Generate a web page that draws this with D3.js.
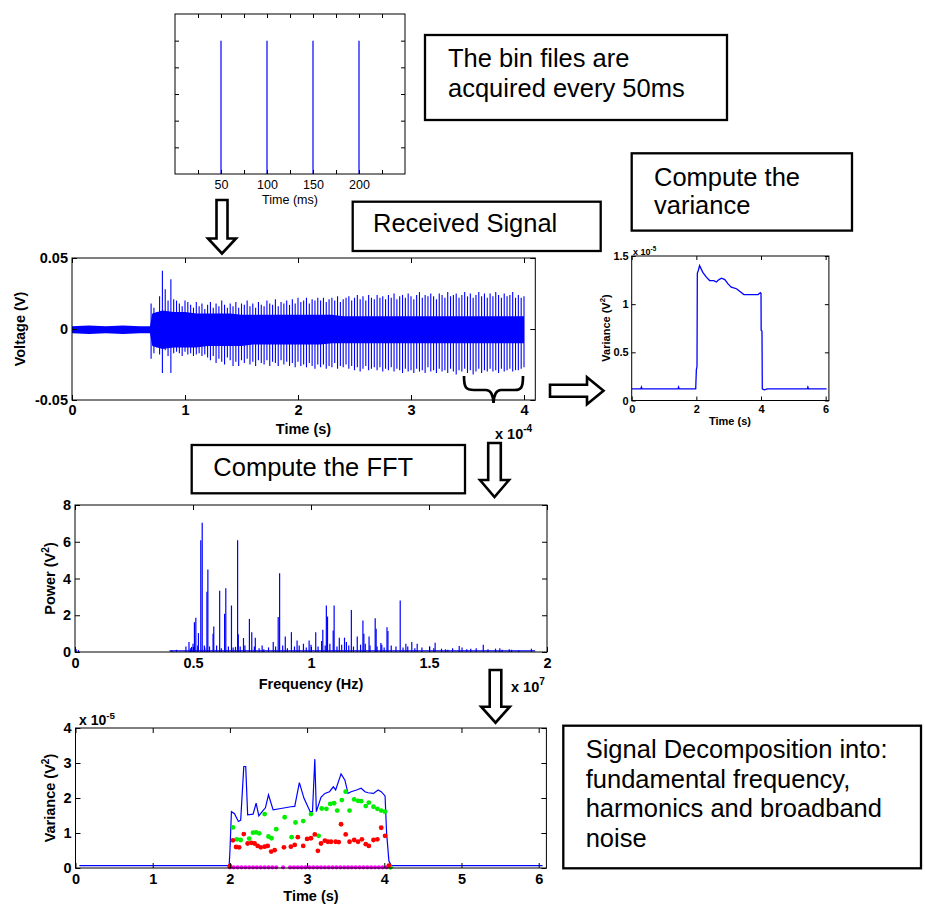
<!DOCTYPE html>
<html>
<head>
<meta charset="utf-8">
<script src="https://cdn.jsdelivr.net/npm/d3@7"></script>
<style>
body { margin: 0; background: #fff; }
svg { display: block; }
</style>
</head>
<body>
<svg id="canvas" width="925" height="905"></svg>
<script>
'use strict';

// ---- panel 1: bin file acquisition times (ms) ----
const binTimes = [50, 100, 150, 200];
const binHeights = [1, 1, 1, 1];
const binTickMarks = [25, 50, 75, 100, 125, 150, 175, 200, 225];
const binTickLabels = [50, 100, 150, 200];
const binYTicks = [0.2, 0.4, 0.6, 0.8, 1.0];

// ---- panel 2: received signal (time in 1e-4 s, voltage in mV) ----
const sigStart = 0.70;
const sigStep = 0.025;
const sigHi = [
    18, 15, 12, 23, 41, 28, 20, 35, 21, 20,
    18, 16, 20, 19, 17, 15, 19, 16, 18, 14,
    17, 19, 15, 18, 16, 20, 17, 15, 18, 16,
    19, 15, 18, 17, 20, 16, 18, 15, 19, 17,
    16, 20, 18, 17, 21, 16, 19, 18, 20, 17,
    21, 18, 22, 19, 20, 22, 18, 21, 20, 22,
    20, 22, 19, 21, 22, 20, 23, 19, 21, 22,
    23, 20, 22, 24, 21, 23, 20, 24, 22, 21,
    24, 22, 23, 21, 24, 22, 25, 21, 23, 24,
    22, 25, 23, 21, 24, 26, 22, 24, 23, 25,
    23, 21, 25, 24, 22, 26, 23, 24, 25, 22,
    24, 26, 23, 25, 22, 24, 26, 23, 25, 22,
    25, 23, 26, 24, 22, 25, 23, 24, 26, 22,
    24, 22, 23];
const sigLo = [
    -21, -17, -13, -18, -31, -15, -19, -31, -17, -16,
    -17, -19, -16, -18, -17, -19, -18, -17, -19, -18,
    -20, -22, -19, -24, -21, -23, -25, -20, -22, -26,
    -23, -26, -22, -24, -21, -25, -23, -26, -22, -24,
    -25, -22, -26, -23, -24, -26, -22, -25, -23, -26,
    -24, -27, -23, -26, -25, -27, -24, -26, -28, -25,
    -27, -25, -28, -26, -27, -24, -28, -26, -27, -25,
    -28, -26, -29, -27, -30, -28, -26, -29, -28, -27,
    -29, -27, -30, -28, -29, -27, -30, -28, -29, -31,
    -28, -30, -29, -31, -28, -30, -29, -31, -27, -30,
    -29, -31, -28, -30, -29, -31, -28, -30, -32, -29,
    -30, -28, -31, -29, -32, -30, -28, -31, -29, -30,
    -28, -30, -29, -31, -28, -30, -29, -28, -30, -29,
    -29, -28, -27];
const coreT = [0, 0.15, 0.3, 0.45, 0.6, 0.69, 0.71, 0.8, 0.9, 1.0,
    1.1, 1.2, 1.3, 1.4, 1.5, 1.6, 1.7, 1.8, 1.9, 2.0,
    2.1, 2.2, 2.3, 2.4, 2.5, 2.6, 2.7, 2.8, 2.9, 3.0,
    3.1, 3.2, 3.3, 3.4, 3.5, 3.6, 3.7, 3.8, 3.9, 4.0];
const coreHi = [2, 2.5, 2, 2.5, 2, 2, 11, 13, 12, 12,
    11, 11, 11, 11, 10, 10, 10, 10, 10, 10,
    10, 10, 10, 9, 9, 9, 9, 9, 9, 9,
    9, 9, 9, 9, 9, 9, 9, 9, 9, 9];
const coreLo = [-3, -3.5, -3, -3.5, -3, -3, -12, -14, -13, -13,
    -13, -12, -12, -12, -12, -11, -11, -11, -11, -11,
    -11, -11, -10, -10, -10, -10, -10, -10, -10, -10,
    -10, -10, -10, -10, -10, -10, -10, -10, -10, -10];

// ---- panel 3: variance of the signal (x 1e-5 V^2) ----
const varT = [0, 0.28, 0.3, 0.32, 1.43, 1.45, 1.47, 1.98, 2.0, 2.02, 2.03, 2.06, 2.1,
    2.2, 2.31, 2.41, 2.54, 2.62, 2.7, 2.78, 2.88, 2.98, 3.08, 3.24, 3.34, 3.47,
    3.65, 3.91, 3.98, 4.0, 4.005, 4.03, 4.04, 4.1, 4.2, 5.43, 5.45, 5.47, 6.03];
const varV = [0.12, 0.12, 0.14, 0.12, 0.12, 0.14, 0.12, 0.12, 0.32, 0.35, 1.32, 1.35, 1.40,
    1.33, 1.28, 1.245, 1.245, 1.23, 1.255, 1.27, 1.255, 1.21, 1.177, 1.16, 1.133, 1.1,
    1.1, 1.1, 1.12, 1.11, 0.73, 0.72, 0.12, 0.11, 0.12, 0.12, 0.14, 0.12, 0.12];

// ---- panel 4: FFT power spectrum (frequency in 1e7 Hz, power in V^2) ----
const fftFreq = [0.005, 0.015, 0.41, 0.43, 0.483, 0.494, 0.506, 0.512, 0.523, 0.533,
    0.539, 0.548, 0.559, 0.563, 0.585, 0.588, 0.613, 0.634, 0.639, 0.663,
    0.68, 0.689, 0.692, 0.714, 0.739, 0.749, 0.764, 0.793, 0.84, 0.861,
    0.867, 0.891, 0.917, 0.941, 0.968, 0.992, 1.02, 1.045, 1.05, 1.065,
    1.07, 1.094, 1.098, 1.12, 1.142, 1.171, 1.196, 1.22, 1.224, 1.246,
    1.272, 1.276, 1.296, 1.322, 1.326, 1.378, 1.402, 1.427, 1.45, 1.503,
    1.526, 1.553, 1.58, 1.628, 1.677, 1.73, 1.782, 1.81, 1.85, 1.934];
const fftPower = [0.15, 0.1, 0.1, 0.12, 0.54, 0.28, 1.62, 1.86, 1.03, 6.08,
    7.04, 0.35, 3.28, 4.49, 1.0, 1.39, 3.34, 2.08, 3.47, 2.53,
    0.28, 6.08, 0.96, 0.76, 1.8, 1.08, 0.78, 0.36, 0.54, 1.9,
    4.28, 0.85, 1.08, 0.63, 0.45, 0.63, 1.08, 0.6, 1.21, 2.53,
    1.93, 1.17, 2.53, 0.78, 0.78, 2.29, 0.85, 1.71, 1.0, 0.85,
    1.84, 1.26, 0.49, 1.35, 1.14, 2.8, 0.45, 0.54, 0.45, 0.31,
    0.5, 0.18, 0.12, 0.32, 0.18, 0.4, 0.18, 0.12, 0.12, 0.18];
const fftMinorFreq = [0.47, 0.49, 0.5, 0.52, 0.55, 0.57, 0.6, 0.62, 0.65, 0.67,
    0.7, 0.72, 0.76, 0.78, 0.8, 0.82, 0.85, 0.88, 0.9, 0.93,
    0.95, 0.98, 1.0, 1.03, 1.06, 1.08, 1.11, 1.13, 1.15, 1.16,
    1.18, 1.21, 1.23, 1.25, 1.28, 1.3, 1.31, 1.34, 1.36, 1.39,
    1.41, 1.44, 1.47, 1.52, 1.57, 1.6, 1.64, 1.66, 1.7, 1.75,
    1.8, 1.84, 1.88];
const fftMinorPower = [0.3, 0.2, 0.45, 0.35, 0.25, 0.3, 0.35, 0.2, 0.3, 0.25,
    0.3, 0.35, 0.3, 0.2, 0.15, 0.25, 0.3, 0.35, 0.2, 0.3,
    0.35, 0.25, 0.4, 0.3, 0.35, 0.45, 0.3, 0.4, 0.55, 0.35,
    0.3, 0.4, 0.45, 0.35, 0.3, 0.4, 0.25, 0.35, 0.3, 0.25,
    0.3, 0.2, 0.25, 0.2, 0.15, 0.2, 0.25, 0.15, 0.2, 0.15,
    0.2, 0.15, 0.1];
const fftFloorFreq = [0.4, 1.95];
const fftFloorPower = [0.06, 0.06];

// ---- panel 5: decomposition (x 1e-5 V^2) ----
const totalT = [0.05, 1.99, 2.0, 2.02, 2.06, 2.11, 2.14, 2.18, 2.205, 2.23,
    2.3, 2.34, 2.375, 2.42, 2.46, 2.5, 2.56, 2.66, 2.79, 2.84,
    2.9, 2.96, 3.04, 3.07, 3.1, 3.12, 3.18, 3.23, 3.29, 3.34,
    3.37, 3.44, 3.49, 3.53, 3.57, 3.64, 3.7, 3.75, 3.79, 3.86,
    3.92, 3.96, 4.01, 4.03, 4.06, 4.09, 6.05];
const totalV = [0.07, 0.07, 0.45, 1.61, 1.55, 1.33, 1.37, 2.9, 2.9, 1.52,
    1.54, 1.85, 1.49, 1.62, 1.72, 2.09, 1.66, 1.7, 1.75, 1.76,
    2.44, 1.99, 1.61, 1.61, 3.11, 1.61, 2.02, 2.13, 2.18, 2.32,
    2.23, 2.69, 2.51, 2.13, 2.18, 2.23, 2.28, 2.18, 2.15, 2.13,
    2.23, 2.18, 2.06, 1.0, 0.2, 0.07, 0.07];
const fundT = [2.04, 2.09, 2.14, 2.25, 2.3, 2.34, 2.38, 2.45, 2.5, 2.54,
    2.6, 2.71, 2.8, 2.85, 2.95, 3.05, 3.15, 3.19, 3.25, 3.3,
    3.35, 3.39, 3.45, 3.5, 3.55, 3.61, 3.66, 3.7, 3.76, 3.8,
    3.86, 3.91, 3.96, 4.01, 4.08];
const fundV = [1.16, 0.82, 0.8, 0.84, 1.01, 1.02, 0.99, 1.54, 0.9, 0.85,
    1.11, 1.45, 0.88, 1.3, 1.34, 1.54, 0.92, 1.7, 1.69, 1.83,
    1.85, 1.64, 1.94, 2.18, 1.64, 1.96, 1.92, 1.91, 1.77, 1.87,
    1.75, 1.69, 1.64, 1.61, 0.02];
const harmT = [2.0, 2.04, 2.08, 2.12, 2.18, 2.23, 2.28, 2.32, 2.36, 2.4,
    2.45, 2.49, 2.535, 2.58, 2.7, 2.79, 2.84, 2.88, 2.95, 3.0,
    3.05, 3.1, 3.14, 3.18, 3.23, 3.27, 3.31, 3.37, 3.41, 3.44,
    3.5, 3.55, 3.61, 3.66, 3.71, 3.76, 3.8, 3.86, 3.91, 3.96,
    4.01, 4.06];
const harmV = [0.05, 0.79, 0.6, 0.59, 0.97, 0.7, 0.72, 0.7, 0.63, 0.59,
    0.61, 0.63, 0.47, 0.51, 0.59, 0.61, 0.66, 0.88, 0.63, 0.83,
    0.85, 0.96, 0.49, 0.7, 0.78, 0.75, 0.75, 0.75, 0.74, 1.25,
    0.96, 0.75, 0.8, 0.75, 0.82, 0.68, 0.63, 0.8, 0.82, 1.15,
    0.92, 0.07];
const noiseT = [2.0, 2.05, 2.1, 2.15, 2.2, 2.25, 2.3, 2.35, 2.4, 2.45,
    2.5, 2.55, 2.6, 2.69, 2.78, 2.83, 2.88, 2.93, 2.98, 3.03,
    3.08, 3.13, 3.18, 3.23, 3.28, 3.33, 3.38, 3.43, 3.48, 3.53,
    3.58, 3.63, 3.68, 3.73, 3.78, 3.83, 3.88, 3.93, 3.98, 4.03];
const noiseV = [0.02, 0.02, 0.02, 0.02, 0.02, 0.02, 0.02, 0.02, 0.02, 0.02,
    0.02, 0.02, 0.02, 0.02, 0.02, 0.02, 0.02, 0.02, 0.02, 0.02,
    0.02, 0.02, 0.02, 0.02, 0.02, 0.02, 0.02, 0.02, 0.02, 0.02,
    0.02, 0.02, 0.02, 0.02, 0.02, 0.02, 0.02, 0.02, 0.02, 0.02];

const FONT = "'Liberation Sans', Arial, sans-serif";
const BLUE = '#0000ff';

const svg = d3.select('#canvas');

// MATLAB-like box axes with inward ticks on all four sides
function drawAxes(g, x, y, o) {
    const [x0, x1] = x.range();
    const [y0, y1] = y.range();
    const xf = o.xFmt || (d => d);
    const yf = o.yFmt || (d => d);

    const axes = [
        g.append('g').attr('transform', 'translate(0,' + y0 + ')')
            .call(d3.axisBottom(x).tickValues(o.xTicks).tickSize(-o.tick).tickSizeOuter(0)
                .tickPadding(o.padX).tickFormat(xf)),
        g.append('g').attr('transform', 'translate(0,' + y1 + ')')
            .call(d3.axisTop(x).tickValues(o.xTicks).tickSize(-o.tick).tickSizeOuter(0).tickFormat('')),
        g.append('g').attr('transform', 'translate(' + x0 + ',0)')
            .call(d3.axisLeft(y).tickValues(o.yTicks).tickSize(-o.tick).tickSizeOuter(0)
                .tickPadding(o.padY).tickFormat(yf)),
        g.append('g').attr('transform', 'translate(' + x1 + ',0)')
            .call(d3.axisRight(y).tickValues(o.yTicks).tickSize(-o.tick).tickSizeOuter(0).tickFormat(''))
    ];
    for (let a of axes) {
        a.attr('font-family', FONT)
            .attr('font-size', o.fontSize)
            .attr('font-weight', o.bold ? 'bold' : 'normal');
        a.select('.domain').remove();
        a.selectAll('.tick line').attr('stroke', '#000');
        a.selectAll('.tick text').attr('fill', '#000');
    }

    g.append('rect')
        .attr('x', x0)
        .attr('y', y1)
        .attr('width', x1 - x0)
        .attr('height', y0 - y1)
        .attr('fill', 'none')
        .attr('stroke', '#000')
        .attr('stroke-width', 1);
}

function addText(g, x, y, str, size, bold, anchor) {
    return g.append('text')
        .attr('x', x)
        .attr('y', y)
        .attr('font-family', FONT)
        .attr('font-size', size)
        .attr('font-weight', bold ? 'bold' : 'normal')
        .attr('text-anchor', anchor || 'start')
        .attr('fill', '#000')
        .text(str);
}

// rotated y label, optionally "(V²)" style with a superscript 2
function yLabel(g, cx, cy, main, sup, tail, size) {
    const t = g.append('text')
        .attr('transform', 'translate(' + cx + ',' + cy + ') rotate(-90)')
        .attr('dy', '0.35em')
        .attr('font-family', FONT)
        .attr('font-size', size)
        .attr('font-weight', 'bold')
        .attr('text-anchor', 'middle')
        .attr('fill', '#000');
    t.append('tspan').text(main);
    if (sup) {
        t.append('tspan').attr('dy', -size * 0.4).attr('font-size', size * 0.7).text(sup);
        t.append('tspan').attr('dy', size * 0.4).text(tail);
    }
}

// "x 10^n" multiplier
function multiplier(g, x, y, exp, size) {
    const t = g.append('text')
        .attr('x', x)
        .attr('y', y)
        .attr('font-family', FONT)
        .attr('font-size', size)
        .attr('font-weight', 'bold')
        .attr('fill', '#000');
    t.append('tspan').text('x 10');
    t.append('tspan').attr('dy', -size * 0.45).attr('font-size', size * 0.7).text(exp);
}

function noteBox(x, y, w, h, lines, tx, ty, lh) {
    const g = svg.append('g');
    g.append('rect')
        .attr('x', x).attr('y', y)
        .attr('width', w).attr('height', h)
        .attr('fill', '#fff')
        .attr('stroke', '#000')
        .attr('stroke-width', 2.3);
    lines.forEach(function(s, i) {
        addText(g, tx, ty + i * lh, s, 25.5, false);
    });
}

function blockArrow(pts) {
    svg.append('polygon')
        .attr('points', pts.map(p => p.join(',')).join(' '))
        .attr('fill', '#fff')
        .attr('stroke', '#000')
        .attr('stroke-width', 2.6)
        .attr('stroke-linejoin', 'miter');
}

function downArrow(cx, yTop, yBase, yTip, sw, hw) {
    blockArrow([[cx - sw, yTop], [cx + sw, yTop], [cx + sw, yBase], [cx + hw, yBase],
        [cx, yTip], [cx - hw, yBase], [cx - sw, yBase]]);
}

function rightArrow(cy, xLeft, xBase, xTip, sw, hw) {
    blockArrow([[xLeft, cy - sw], [xBase, cy - sw], [xBase, cy - hw], [xTip, cy],
        [xBase, cy + hw], [xBase, cy + sw], [xLeft, cy + sw]]);
}

{ // Panel 1: bin file acquisition
    const g = svg.append('g');
    const x = d3.scaleLinear().domain([0, 250]).range([175, 405]);
    const y = d3.scaleLinear().domain([0, 1.2]).range([174, 14]);

    g.selectAll('line.stem')
        .data(d3.zip(binTimes, binHeights))
        .enter().append('line')
            .attr('class', 'stem')
            .attr('x1', d => x(d[0]))
            .attr('x2', d => x(d[0]))
            .attr('y1', y(0))
            .attr('y2', d => y(d[1]))
            .attr('stroke', BLUE)
            .attr('stroke-width', 1.2);

    drawAxes(g, x, y, {
        xTicks: binTickMarks, yTicks: binYTicks, tick: 4,
        padX: 6, padY: 4, fontSize: 12.5, bold: false,
        xFmt: d => binTickLabels.indexOf(d) >= 0 ? d : '',
        yFmt: () => ''
    });
    addText(g, 290, 204, 'Time (ms)', 12.5, false, 'middle');
}

{ // Panel 2: received signal
    const g = svg.append('g');
    const x = d3.scaleLinear().domain([0, 4.1]).range([72, 535.3]);
    const y = d3.scaleLinear().domain([-0.05, 0.05]).range([400, 258]);

    g.append('path')
        .datum(d3.range(coreT.length))
        .attr('d', d3.area()
            .x(i => x(coreT[i]))
            .y0(i => y(coreLo[i] / 1000))
            .y1(i => y(coreHi[i] / 1000)))
        .attr('fill', BLUE);

    g.selectAll('line.spike')
        .data(d3.range(Math.min(sigHi.length, sigLo.length)))
        .enter().append('line')
            .attr('class', 'spike')
            .attr('x1', i => x(sigStart + i * sigStep))
            .attr('x2', i => x(sigStart + i * sigStep))
            .attr('y1', i => y(sigLo[i] / 1000))
            .attr('y2', i => y(sigHi[i] / 1000))
            .attr('stroke', BLUE)
            .attr('stroke-width', 1.1);

    drawAxes(g, x, y, {
        xTicks: [0, 1, 2, 3, 4], yTicks: [-0.05, 0, 0.05], tick: 5,
        padX: 5, padY: 4, fontSize: 14.5, bold: true,
        yFmt: d => String(d)
    });
    yLabel(g, 20, 329, 'Voltage (V)', null, null, 14.5);
    addText(g, 303.5, 434, 'Time (s)', 14.5, true, 'middle');
    multiplier(g, 495, 439, '-4', 14.5);

    // brace marking the last 50 microseconds
    g.append('path')
        .attr('d', 'M464,376 C464,388 466,390 474,390 L486,390 C491,390 493,394 493.5,403 ' +
            'C494,394 496,390 501,390 L515,390 C521,390 523,388 523,376')
        .attr('fill', 'none')
        .attr('stroke', '#000')
        .attr('stroke-width', 2.7);
}

{ // Panel 3: variance
    const g = svg.append('g');
    const x = d3.scaleLinear().domain([0, 6.1]).range([631.7, 828.9]);
    const y = d3.scaleLinear().domain([0, 1.5]).range([400.5, 256]);

    g.append('path')
        .datum(d3.range(varT.length))
        .attr('d', d3.line().x(i => x(varT[i])).y(i => y(varV[i])))
        .attr('fill', 'none')
        .attr('stroke', BLUE)
        .attr('stroke-width', 1.3);

    drawAxes(g, x, y, {
        xTicks: [0, 2, 4, 6], yTicks: [0, 0.5, 1, 1.5], tick: 4,
        padX: 5, padY: 3, fontSize: 11, bold: true
    });
    yLabel(g, 606, 328, 'Variance (V', '2', ')', 11);
    addText(g, 730, 425, 'Time (s)', 11, true, 'middle');
    multiplier(g, 633, 255, '-5', 9);
}

{ // Panel 4: FFT
    const g = svg.append('g');
    const x = d3.scaleLinear().domain([0, 2]).range([75, 547]);
    const y = d3.scaleLinear().domain([0, 8]).range([652, 505]);

    g.append('path')
        .datum(d3.range(fftFloorFreq.length))
        .attr('d', d3.line().x(i => x(fftFloorFreq[i])).y(i => y(fftFloorPower[i])))
        .attr('stroke', BLUE)
        .attr('stroke-width', 1.2);

    const stems = d3.zip(fftMinorFreq, fftMinorPower).concat(d3.zip(fftFreq, fftPower));
    g.selectAll('line.stem')
        .data(stems)
        .enter().append('line')
            .attr('class', 'stem')
            .attr('x1', d => x(d[0]))
            .attr('x2', d => x(d[0]))
            .attr('y1', y(0))
            .attr('y2', d => y(d[1]))
            .attr('stroke', BLUE)
            .attr('stroke-width', 1.2);

    drawAxes(g, x, y, {
        xTicks: [0, 0.5, 1, 1.5, 2], yTicks: [0, 2, 4, 6, 8], tick: 5,
        padX: 6, padY: 4, fontSize: 14.5, bold: true
    });
    yLabel(g, 50, 578.5, 'Power (V', '2', ')', 14.5);
    addText(g, 311, 689, 'Frequency (Hz)', 14.5, true, 'middle');
    multiplier(g, 511, 692, '7', 14.5);
}

{ // Panel 5: signal decomposition
    const g = svg.append('g');
    const x = d3.scaleLinear().domain([0, 6.1]).range([75.5, 546.4]);
    const y = d3.scaleLinear().domain([0, 4]).range([868, 728]);

    g.append('path')
        .datum(d3.range(totalT.length))
        .attr('d', d3.line().x(i => x(totalT[i])).y(i => y(totalV[i])))
        .attr('fill', 'none')
        .attr('stroke', BLUE)
        .attr('stroke-width', 1.2);

    const series = [
        [noiseT, noiseV, '#ff00ff', 2.1],
        [fundT, fundV, '#00ee00', 2.4],
        [harmT, harmV, '#ff0000', 2.4]
    ];
    for (let s of series) {
        g.append('g').selectAll('circle')
            .data(d3.zip(s[0], s[1]))
            .enter().append('circle')
                .attr('cx', d => x(d[0]))
                .attr('cy', d => y(d[1]))
                .attr('r', s[3])
                .attr('fill', s[2]);
    }

    drawAxes(g, x, y, {
        xTicks: [0, 1, 2, 3, 4, 5, 6], yTicks: [0, 1, 2, 3, 4], tick: 5,
        padX: 6, padY: 4, fontSize: 14.5, bold: true
    });
    yLabel(g, 50, 798, 'Variance (V', '2', ')', 14.5);
    addText(g, 311, 901, 'Time (s)', 14.5, true, 'middle');
    multiplier(g, 79, 725, '-5', 14);
}

// note boxes
noteBox(425, 35, 302, 85, ['The bin files are', 'acquired every 50ms'], 448, 67, 30);
noteBox(352.7, 201.7, 248, 49.3, ['Received Signal'], 373, 232, 30);
noteBox(631.7, 153.3, 220.3, 77.3, ['Compute the', 'variance'], 654, 185.7, 28.6);
noteBox(191.7, 445, 273.3, 48.3, ['Compute the FFT'], 213.3, 475.7, 30);
noteBox(563.3, 725.7, 357.7, 142.6, ['Signal Decomposition into:', 'fundamental frequency,',
    'harmonics and broadband', 'noise'], 585.7, 758.3, 29.5);

// process arrows
downArrow(222, 200, 238.5, 253.5, 5.5, 14);
rightArrow(390.7, 550, 587, 603.5, 6, 13.5);
downArrow(494.5, 443, 480, 497, 6.3, 14.5);
downArrow(495.5, 670, 706.7, 722.7, 5.8, 14.3);
</script>
</body>
</html>
